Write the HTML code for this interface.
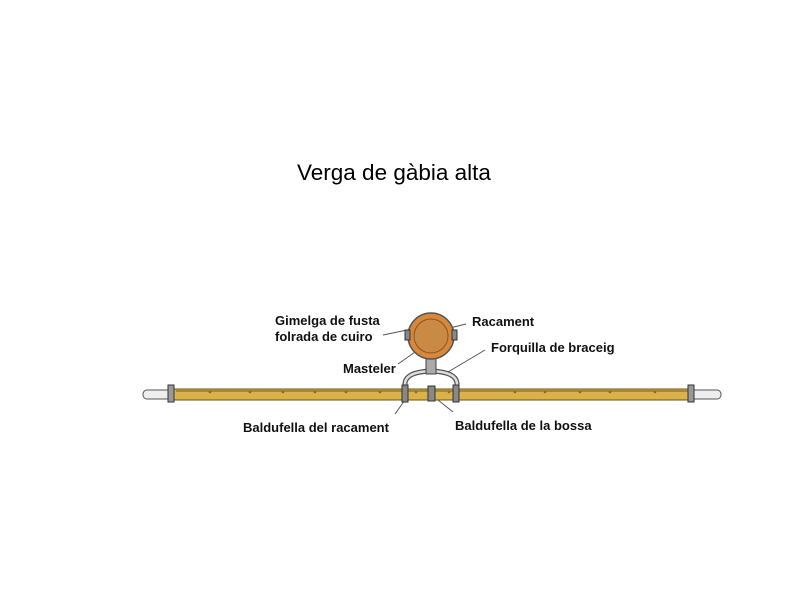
<!DOCTYPE html>
<html><head><style>
body{margin:0;background:#fff;width:800px;height:600px;overflow:hidden}
</style></head><body>
<svg width="800" height="600" xmlns="http://www.w3.org/2000/svg" style="position:absolute;left:0;top:0">
<text x="297" y="180" font-family="Liberation Sans, sans-serif" font-size="22.5" fill="#000">Verga de gàbia alta</text>
<g font-family="Liberation Sans, sans-serif" font-size="13" font-weight="bold" fill="#111">
<text x="275" y="325">Gimelga de fusta</text>
<text x="275" y="341">folrada de cuiro</text>
<text x="343" y="373">Masteler</text>
<text x="472" y="326">Racament</text>
<text x="491" y="352">Forquilla de braceig</text>
<text x="243" y="432">Baldufella del racament</text>
<text x="455" y="430">Baldufella de la bossa</text>
</g>
<g stroke="#555" stroke-width="1" fill="none">
<line x1="383" y1="335" x2="412" y2="329"/>
<line x1="450" y1="328" x2="466" y2="324"/>
<line x1="398" y1="364" x2="418" y2="350"/>
<line x1="448" y1="372" x2="485" y2="350"/>
<line x1="395" y1="414" x2="405" y2="400"/>
<line x1="453" y1="412" x2="438" y2="400"/>
</g>
<rect x="143" y="390" width="32" height="9" rx="4" fill="#eee" stroke="#555"/>
<rect x="690" y="390" width="31" height="9" rx="4" fill="#eee" stroke="#555"/>
<path d="M172 389 L692 389 L692 400 L172 400 Z" fill="#d9b24a" stroke="#6b5420"/>
<line x1="176" y1="391" x2="688" y2="391" stroke="#7a5a20" stroke-width="1"/>
<g fill="#8a6a30">
<circle cx="210" cy="392" r="1.3"/><circle cx="250" cy="392" r="1.3"/><circle cx="283" cy="392" r="1.3"/><circle cx="315" cy="392" r="1.3"/><circle cx="346" cy="392" r="1.3"/><circle cx="380" cy="392" r="1.3"/><circle cx="416" cy="392" r="1.3"/><circle cx="449" cy="392" r="1.3"/><circle cx="515" cy="392" r="1.3"/><circle cx="545" cy="392" r="1.3"/><circle cx="580" cy="392" r="1.3"/><circle cx="610" cy="392" r="1.3"/><circle cx="655" cy="392" r="1.3"/>
</g>
<rect x="168" y="385" width="6" height="17" fill="#999" stroke="#333"/>
<rect x="688" y="385" width="6" height="17" fill="#999" stroke="#333"/>
<path d="M405 388 L405 384 Q405 372 431 371 Q457 372 457 384 L457 388" fill="none" stroke="#555" stroke-width="5"/>
<path d="M405 388 L405 384 Q405 372 431 371 Q457 372 457 384 L457 388" fill="none" stroke="#ddd" stroke-width="2.5"/>
<rect x="402" y="385" width="6" height="17" fill="#888" stroke="#333"/>
<rect x="428" y="386" width="7" height="15" fill="#888" stroke="#333"/>
<rect x="453" y="385" width="6" height="17" fill="#888" stroke="#333"/>
<rect x="426" y="358" width="10" height="16" fill="#aaa" stroke="#444"/>
<circle cx="431" cy="336" r="23" fill="#d8883a" stroke="#555" stroke-width="1.5"/>
<circle cx="431" cy="336" r="17" fill="#c88a45" stroke="#8a5520"/>
<rect x="405" y="330" width="5" height="10" fill="#888" stroke="#333"/>
<rect x="452" y="330" width="5" height="10" fill="#888" stroke="#333"/>
</svg>
</body></html>
